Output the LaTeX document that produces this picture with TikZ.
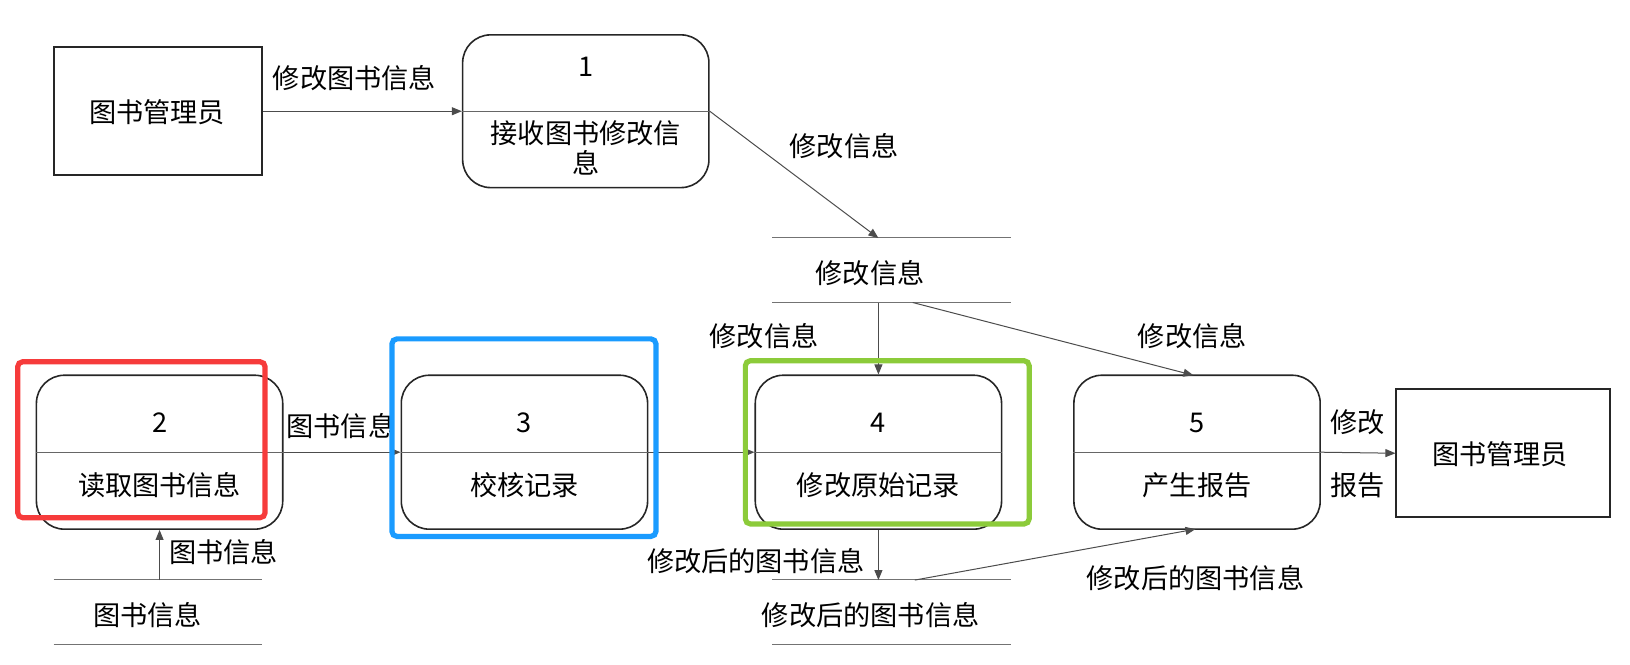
\documentclass[tikz,border=0pt]{standalone}
\usepackage{fontspec}
\setmainfont{Noto Sans CJK SC}
\usetikzlibrary{arrows.meta}
\definecolor{hlred}{HTML}{F63B3B}
\definecolor{hlblue}{HTML}{1A9BFF}
\definecolor{hlgreen}{HTML}{8CCB3A}
\tikzset{
  proc/.style={draw=black!85, line width=0.8pt, rounded corners=14pt, minimum width=123.2pt, minimum height=77pt, inner sep=0pt},
  ent/.style={draw=black!85, line width=0.8pt, inner sep=0pt},
  store/.style={minimum width=119pt, minimum height=32.2pt, inner sep=0pt},
  sline/.style={draw=black!55, line width=0.6pt},
  flow/.style={draw=black!70, line width=0.5pt, -{Triangle[length=5pt,width=4pt]}},
  divline/.style={draw=black!60, line width=0.5pt},
  txt/.style={font=\fontsize{13.6pt}{15pt}\selectfont, inner sep=0pt, align=center},
  hl/.style={line width=2.6pt, rounded corners=2.5pt}
}
\begin{document}
\begin{tikzpicture}[x=0.52pt,y=-0.52pt]
\useasboundingbox (0,0) rectangle (1568,639);
% entities
\node[ent, minimum width=104pt, minimum height=64pt] (e1) at (152,107) {};
\node[txt] (e1t) at (151,108) {图书管理员};
\node[ent, minimum width=107pt, minimum height=64pt] (e2) at (1446,436) {};
\node[txt] (e2t) at (1443,437) {图书管理员};
% processes
\node[proc, minimum height=76.4pt] (p1) at (563.5,107) {};
\node[proc] (p2) at (153.5,435) {};
\node[proc] (p3) at (504.5,435) {};
\node[proc] (p4) at (845,435) {};
\node[proc] (p5) at (1151.5,435) {};
\foreach \p in {p1,p2,p3,p4,p5} {\draw[divline] (\p.west) -- (\p.east);}
\node[txt] (p1n) at (563.5,64) {1};
\node[txt] (p1t) at (563.5,142) {接收图书修改信\\息};
\node[txt] (p2n) at (153.5,407) {2};
\node[txt] (p2t) at (153.5,467) {读取图书信息};
\node[txt] (p3n) at (504.5,407) {3};
\node[txt] (p3t) at (504.5,467) {校核记录};
\node[txt] (p4n) at (845,407) {4};
\node[txt] (p4t) at (845,467) {修改原始记录};
\node[txt] (p5n) at (1151.5,407) {5};
\node[txt] (p5t) at (1151.5,467) {产生报告};
% data stores
\node[store, minimum width=119pt] (s1) at (857.5,260) {};
\node[store, minimum width=119pt] (s2) at (857.5,589) {};
\node[store, minimum width=104pt] (s3) at (152,589) {};
\foreach \s in {s1,s2,s3} {
  \draw[sline] (\s.north west) -- (\s.north east);
  \draw[sline] (\s.south west) -- (\s.south east);
}
\node[txt] (s1t) at (837,263) {修改信息};
\node[txt] (s2t) at (837.5,592) {修改后的图书信息};
\node[txt] (s3t) at (142,592) {图书信息};
% anchor coordinates on stores
\coordinate (s1in) at (845,229);
\coordinate (s1out) at (845,291);
\coordinate (s1out2) at (878,291);
\coordinate (s2in) at (845,558);
\coordinate (s2out) at (880,558);
\coordinate (s3out) at (153.5,558);
\coordinate (p5top) at (1148,361);
\coordinate (p5bot) at (1150,509);
% flows
\draw[flow] (e1.east) -- (p1.west);
\draw[flow] (p1.east) -- (s1in);
\draw[flow] (s1out) -- (p4.north);
\draw[flow] (s1out2) -- (p5top);
\draw[flow] (p2.east) -- (p3.west);
\draw[flow] (p3.east) -- (p4.west);
\draw[flow] (p5.east) -- (e2.west);
\draw[flow] (p4.south) -- (s2in);
\draw[flow] (s2out) -- (p5bot);
\draw[flow] (s3out) -- (p2.south);
% flow labels
\node[txt] (l1) at (341,75) {修改图书信息};
\node[txt] (l2) at (812,141) {修改信息};
\node[txt] (l3) at (735,323) {修改信息};
\node[txt] (l4) at (1147,323) {修改信息};
\node[txt] (l5) at (328,410) {图书信息};
\node[txt] (l6) at (1306,406) {修改};
\node[txt] (l7) at (1306,467) {报告};
\node[txt] (l8) at (727,540) {修改后的图书信息};
\node[txt] (l9) at (1150,556) {修改后的图书信息};
\node[txt] (l10) at (215,531) {图书信息};
% highlight frames
\draw[hl, hlred] (17,348) rectangle (255,498);
\draw[hl, hlblue] (377,326) rectangle (631,516);
\draw[hl, hlgreen] (717,347) rectangle (990,504);
\end{tikzpicture}
\end{document}
